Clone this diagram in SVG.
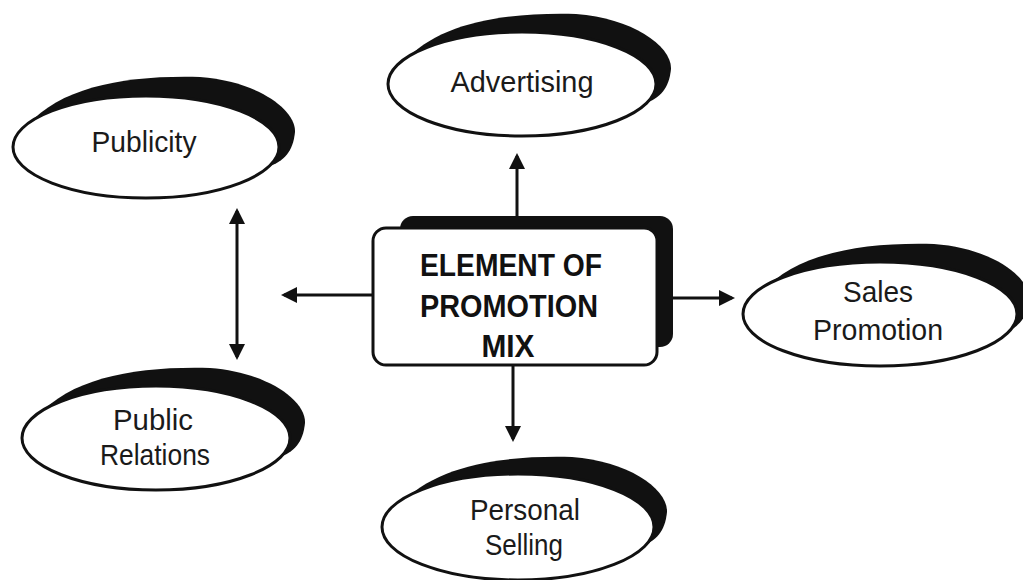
<svg xmlns="http://www.w3.org/2000/svg" width="1023" height="580" viewBox="0 0 1023 580">
<style>
.shadow{fill:#111}
.front{fill:#fff;stroke:#111;stroke-width:3}
.lbl{font-family:"Liberation Sans",Arial,sans-serif;font-size:29px;fill:#1a1a1a;text-anchor:middle}
.title{font-family:"Liberation Sans",Arial,sans-serif;font-size:31px;font-weight:bold;fill:#111;text-anchor:middle}
.conn{stroke:#111;stroke-width:3;fill:none}
</style>
<defs>
<marker id="ah" viewBox="0 0 16 16" refX="13" refY="8" markerWidth="16" markerHeight="16" markerUnits="userSpaceOnUse" orient="auto-start-reverse">
<path d="M0,0 L16,8 L0,16 z" fill="#111"/>
</marker>
<path id="cres" class="shadow" d="M-118,-22 C-85,-60 -20,-72 54,-70 C110,-66 150,-38 149,-15 C147,5 138,14 122,20 L0,0 Z"/>
</defs>
<rect width="1023" height="580" fill="#fff"/>

<g id="connectors">
<line class="conn" x1="237" y1="211" x2="237" y2="357" marker-start="url(#ah)" marker-end="url(#ah)"/>
<line class="conn" x1="372" y1="295" x2="284" y2="295" marker-end="url(#ah)"/>
<line class="conn" x1="657" y1="298" x2="732" y2="298" marker-end="url(#ah)"/>
<line class="conn" x1="517" y1="216" x2="517" y2="156" marker-end="url(#ah)"/>
<line class="conn" x1="513" y1="365" x2="513" y2="439" marker-end="url(#ah)"/>
</g>

<g id="center">
<rect class="shadow" x="400" y="216" width="273" height="131" rx="13"/>
<rect class="front" x="373" y="228" width="284" height="137" rx="13"/>
<text class="title" x="511" y="276" textLength="182" lengthAdjust="spacingAndGlyphs">ELEMENT OF</text>
<text class="title" x="509" y="317" textLength="178" lengthAdjust="spacingAndGlyphs">PROMOTION</text>
<text class="title" x="508" y="357" textLength="53" lengthAdjust="spacingAndGlyphs">MIX</text>
</g>

<g id="advertising">
<use href="#cres" x="522" y="84"/>
<ellipse class="front" cx="522" cy="84" rx="134" ry="52"/>
<text class="lbl" x="522" y="92" textLength="143" lengthAdjust="spacingAndGlyphs">Advertising</text>
</g>

<g id="publicity">
<use href="#cres" x="146" y="147"/>
<ellipse class="front" cx="146" cy="147" rx="133" ry="51"/>
<text class="lbl" x="144" y="152" textLength="105" lengthAdjust="spacingAndGlyphs">Publicity</text>
</g>

<g id="sales-promotion">
<use href="#cres" x="880" y="314"/>
<ellipse class="front" cx="880" cy="314" rx="137" ry="52"/>
<text class="lbl" x="878" y="302" textLength="70" lengthAdjust="spacingAndGlyphs">Sales</text>
<text class="lbl" x="878" y="340" textLength="130" lengthAdjust="spacingAndGlyphs">Promotion</text>
</g>

<g id="public-relations">
<use href="#cres" x="156" y="438"/>
<ellipse class="front" cx="156" cy="438" rx="134" ry="52"/>
<text class="lbl" x="153" y="430" textLength="80" lengthAdjust="spacingAndGlyphs">Public</text>
<text class="lbl" x="155" y="465" textLength="110" lengthAdjust="spacingAndGlyphs">Relations</text>
</g>

<g id="personal-selling">
<use href="#cres" x="518" y="527"/>
<ellipse class="front" cx="518" cy="527" rx="136" ry="53"/>
<text class="lbl" x="525" y="520" textLength="110" lengthAdjust="spacingAndGlyphs">Personal</text>
<text class="lbl" x="524" y="555" textLength="78" lengthAdjust="spacingAndGlyphs">Selling</text>
</g>
</svg>
